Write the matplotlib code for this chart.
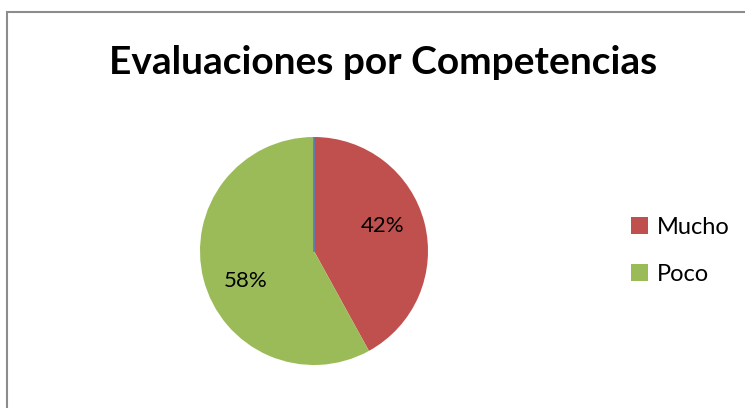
import matplotlib.pyplot as plt
from matplotlib.patches import Rectangle, Patch

categorias = ["Mucho", "Poco"]
valores = [42, 58]
colores = ["#C0504D", "#9BBB59"]
titulo = "Evaluaciones por Competencias"

plt.rcParams["font.family"] = ["Lato", "DejaVu Sans"]

fig = plt.figure(figsize=(7.45, 4.08), dpi=100)
fig.patch.set_facecolor("white")

# marco gris del grafico
fig.patches.append(Rectangle((7 / 745, -0.01), 1.0, 1 - 12 / 408 + 0.01,
                             transform=fig.transFigure, fill=False,
                             edgecolor="#8C8C8C", linewidth=1.5))

fig.text(383 / 745, 1 - 62 / 408, titulo, ha="center", va="center",
         fontsize=28, fontweight="bold")

ax = fig.add_axes([200 / 745, 43 / 408, 228 / 745, 228 / 408])
wedges, texts, autotexts = ax.pie(valores, colors=colores, startangle=90,
                                  counterclock=False, autopct="%d%%",
                                  pctdistance=0.66,
                                  textprops={"fontsize": 16})
# etiquetas como en Excel
autotexts[0].set_position((0.6, 0.22))
autotexts[1].set_position((-0.6, -0.26))
# linea azul en el borde superior (serie sin valor)
ax.plot([0, 0], [0, 1], color="#4F81BD", linewidth=1.2)
ax.set_xlim(-1, 1)
ax.set_ylim(-1, 1)
ax.set_aspect("equal")

handles = [Patch(facecolor=c) for c in colores]
fig.legend(handles, categorias, loc="center left",
           bbox_to_anchor=(631 / 745, 1 - 251 / 408), frameon=False,
           fontsize=17, handlelength=0.7, handleheight=0.7,
           labelspacing=1.1, handletextpad=0.4, borderpad=0,
           borderaxespad=0)

fig.savefig("out.png", dpi=100)
